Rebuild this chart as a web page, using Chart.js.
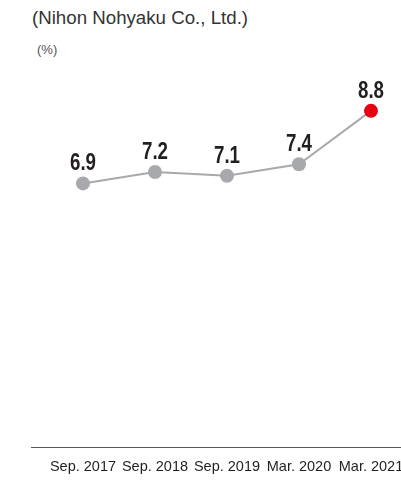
<!DOCTYPE html>
<html>
<head>
<meta charset="utf-8">
<script src="https://cdn.jsdelivr.net/npm/chart.js@4"></script>
<style>
  html, body { margin: 0; padding: 0; background: #fff; }
  #wrap { position: relative; width: 401px; height: 480px; }
  #title { position: absolute; left: 32px; top: 7px; font: 18.7px "Liberation Sans", Arial, sans-serif; color: #333; white-space: nowrap; }
  #unit { position: absolute; left: 37px; top: 42px; font: 13px "Liberation Sans", Arial, sans-serif; color: #555; }
  canvas { position: absolute; left: 0; top: 0; }
</style>
</head>
<body>
<div id="wrap">
  <div id="title">(Nihon Nohyaku Co., Ltd.)</div>
  <div id="unit">(%)</div>
  <canvas id="c" width="401" height="480"></canvas>
</div>
<script>
const periods = ["Sep. 2017", "Sep. 2018", "Sep. 2019", "Mar. 2020", "Mar. 2021"];
const ratio = [6.9, 7.2, 7.1, 7.4, 8.8];
const pointColors = ["#a8a9ac", "#a8a9ac", "#a8a9ac", "#a8a9ac", "#e60012"];

// value labels above each point, squeezed to look condensed
const valueLabels = {
  id: "valueLabels",
  afterDatasetsDraw(chart) {
    const ctx = chart.ctx;
    const meta = chart.getDatasetMeta(0);
    meta.data.forEach((pt, i) => {
      ctx.save();
      ctx.translate(pt.x, pt.y - 13);
      ctx.scale(0.78, 1);
      ctx.font = "bold 24px 'Liberation Sans', Arial, sans-serif";
      ctx.fillStyle = "#231f20";
      ctx.textAlign = "center";
      ctx.textBaseline = "alphabetic";
      ctx.fillText(ratio[i].toFixed(1), 0, 0);
      ctx.restore();
    });
  }
};

new Chart(document.getElementById("c"), {
  type: "line",
  data: {
    datasets: [{
      data: ratio.map((v, i) => ({ x: i, y: v })),
      borderColor: "#a8a9ac",
      borderWidth: 2,
      pointRadius: 7,
      pointHoverRadius: 7,
      pointBackgroundColor: pointColors,
      pointBorderWidth: 0,
      tension: 0,
    }],
  },
  options: {
    responsive: false,
    animation: false,
    events: [],
    layout: { autoPadding: false, padding: { left: 31, right: 0, top: 65, bottom: 0 } },
    plugins: { legend: { display: false }, tooltip: { enabled: false } },
    scales: {
      x: {
        type: "linear",
        min: -0.722,
        max: 4.417,
        afterBuildTicks: (axis) => { axis.ticks = periods.map((p, i) => ({ value: i })); },
        afterFit: (axis) => { axis.height = 33; axis.paddingLeft = 0; axis.paddingRight = 0; },
        grid: { display: false, drawTicks: false },
        border: { display: true, color: "#595757", width: 1 },
        ticks: {
          padding: 11,
          color: "#231f20",
          font: { family: "'Liberation Sans', Arial, sans-serif", size: 14.5 },
          callback: (v) => periods[v] ?? "",
          maxRotation: 0,
          autoSkip: false,
        },
      },
      y: { display: false, min: 0, max: 10 },
    },
  },
  plugins: [valueLabels],
});
</script>
</body>
</html>
